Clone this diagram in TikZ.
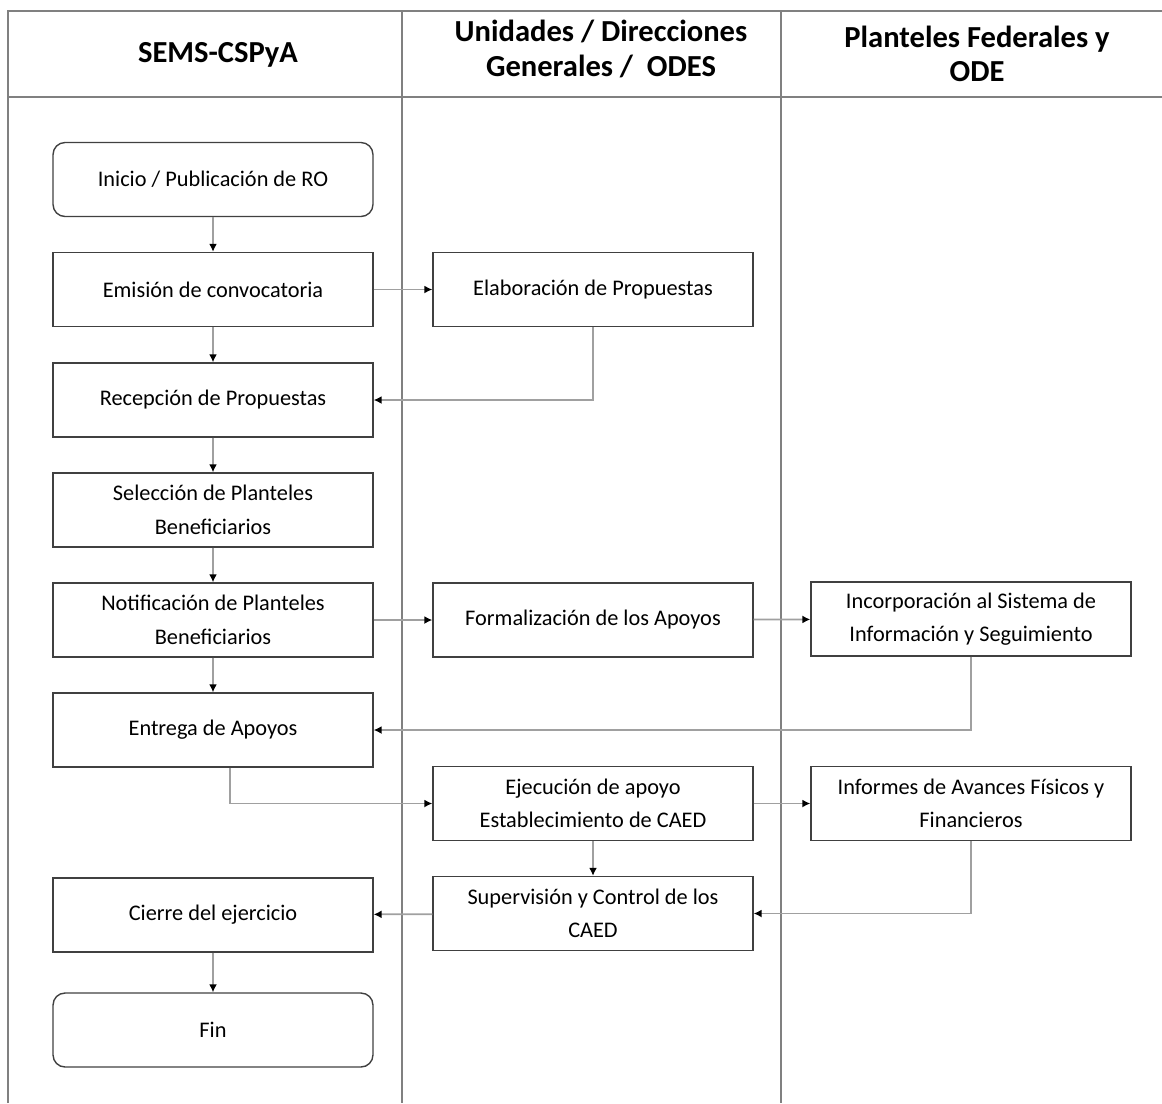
\documentclass[tikz,border=0pt]{standalone}
\usepackage{fontspec}
\setmainfont{Carlito}
\usetikzlibrary{arrows.meta,calc}
\definecolor{laneline}{HTML}{808080}
\definecolor{boxline}{HTML}{404040}
\definecolor{flowline}{HTML}{A0A0A0}
\tikzset{%
    >={Latex[length=1.6mm,width=1.6mm,black]},
    stepbox/.style={draw=boxline, line width=0.8pt, minimum width=6.4cm,
        minimum height=1.48cm, align=center, inner sep=2pt,
        font=\fontsize{12.7}{19}\selectfont},
    endbox/.style={stepbox, rounded corners=0.24cm},
    flow/.style={draw=flowline, line width=1pt, ->},
    lane/.style={draw=laneline, line width=1.2pt},
    lanehead/.style={align=center, font=\fontsize{17.4}{19.5}\selectfont\bfseries}
}
\newcommand\FlowStep[5][stepbox]{%
    \node[#1] (#2) at (#3,#4) {#5}
}

\begin{document}
\begin{tikzpicture}[x=0.02cm, y=-0.02cm]
      \useasboundingbox (0,0) rectangle (1162,1103);

      % lanes
      \draw[lane] (8,1103) -- (8,11) -- (1162,11);
      \draw[lane] (8,97) -- (1162,97);
      \draw[lane] (402,11) -- (402,1103);
      \draw[lane] (781,11) -- (781,1103);

      \node[lanehead] (headsems) at (218,55) {SEMS-CSPyA};
      \node[lanehead] (headunid) at (601,49) {Unidades / Direcciones\\Generales /\ \ ODES};
      \node[lanehead] (headplan) at (977,54) {Planteles Federales y\\ODE};

      % SEMS-CSPyA
      \FlowStep[endbox]{inicio}{213}{179.5}{Inicio / Publicación de RO};
      \FlowStep{emision}{213}{289.5}{Emisión de convocatoria};
      \FlowStep{recepcion}{213}{400}{Recepción de Propuestas};
      \FlowStep{seleccion}{213}{510}{Selección de Planteles\\Beneficiarios};
      \FlowStep{notificacion}{213}{620}{Notificación de Planteles\\Beneficiarios};
      \FlowStep{entrega}{213}{730}{Entrega de Apoyos};
      \FlowStep{cierre}{213}{915}{Cierre del ejercicio};
      \FlowStep[endbox]{fin}{213}{1030}{Fin};

      % Unidades / Direcciones Generales / ODES
      \FlowStep{elaboracion}{593}{289.5}{Elaboración de Propuestas};
      \FlowStep{formalizacion}{593}{620}{Formalización de los Apoyos};
      \FlowStep{ejecucion}{593}{803.5}{Ejecución de apoyo\\Establecimiento de CAED};
      \FlowStep{supervision}{593}{913.5}{Supervisión y Control de los\\CAED};

      % Planteles Federales y ODE
      \FlowStep{incorporacion}{971}{619}{Incorporación al Sistema de\\Información y Seguimiento};
      \FlowStep{informes}{971}{803.5}{Informes de Avances Físicos y\\Financieros};

      \draw[flow] (inicio) -- (emision);
      \draw[flow] (emision) -- (elaboracion);
      \draw[flow] (emision) -- (recepcion);
      \draw[flow] (elaboracion.south) |- (recepcion.east);
      \draw[flow] (recepcion) -- (seleccion);
      \draw[flow] (seleccion) -- (notificacion);
      \draw[flow] (notificacion) -- (formalizacion);
      \draw[flow] (formalizacion) -- (incorporacion);
      \draw[flow] (notificacion) -- (entrega);
      \draw[flow] (incorporacion.south) |- (entrega.east);
      \draw[flow] ($(entrega.south)+(17,0)$) |- (ejecucion.west);
      \draw[flow] (ejecucion) -- (informes);
      \draw[flow] (ejecucion) -- (supervision);
      \draw[flow] (informes.south) |- (supervision.east);
      \draw[flow] (supervision) -- (cierre);
      \draw[flow] (cierre) -- (fin);
\end{tikzpicture}
\end{document}
